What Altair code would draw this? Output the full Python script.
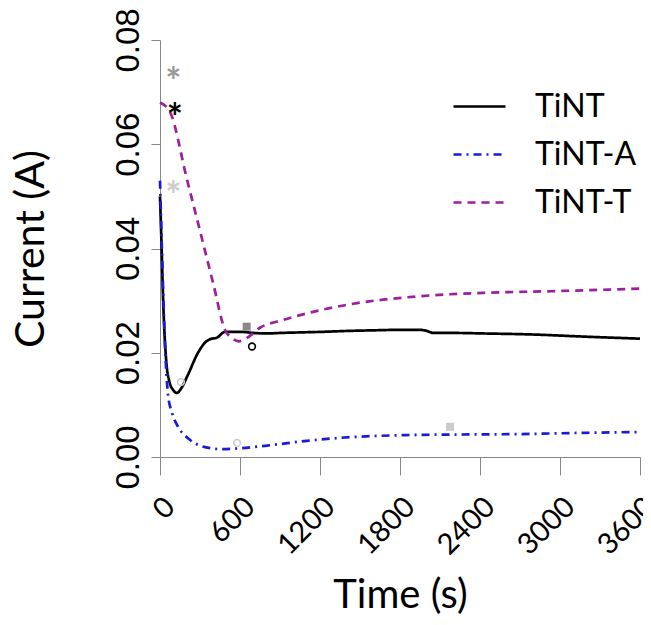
import altair as alt
import pandas as pd

# ---- data ----
series_names = ["TiNT", "TiNT-A", "TiNT-T"]

tint_t = [0, 10, 25, 45, 70, 100, 127, 160, 210, 285, 340, 375, 427, 487, 550, 615, 700, 800, 900,
          1050, 1200, 1425, 1600, 1800, 1950, 2000, 2050, 2200, 2425, 2800, 3175, 3600]
tint_v = [0.050, 0.042, 0.029, 0.019, 0.0145, 0.0128, 0.0123, 0.0132, 0.0158, 0.0200, 0.0220, 0.0226,
          0.0229, 0.0240, 0.0240, 0.0240, 0.0238, 0.0237, 0.0238, 0.0239, 0.0240, 0.0242, 0.0243,
          0.0244, 0.0244, 0.0242, 0.0238, 0.0238, 0.0237, 0.0235, 0.0231, 0.0227]

tinta_t = [0, 20, 40, 60, 90, 135, 210, 337, 465, 615, 840, 1100, 1425, 1837, 2175, 2700, 3100, 3600]
tinta_v = [0.053, 0.035, 0.020, 0.012, 0.0085, 0.0058, 0.0036, 0.0019, 0.0015, 0.0017, 0.0023, 0.0031,
           0.0038, 0.0042, 0.0043, 0.0044, 0.0046, 0.0048]

tintt_t = [0, 75, 200, 300, 400, 487, 540, 590, 650, 750, 925, 1425, 1925, 2425, 2925, 3600]
tintt_v = [0.068, 0.0662, 0.0535, 0.0434, 0.0332, 0.0244, 0.0228, 0.0222, 0.0228, 0.0248, 0.0263,
           0.0293, 0.0308, 0.0315, 0.0318, 0.0323]

# significance markers
star_t = [100, 112, 100]
star_v = [0.0738, 0.0670, 0.0519]
star_c = ["#999999", "#000000", "#cccccc"]

sq_t = [650, 2175]
sq_v = [0.0250, 0.0058]
sq_c = ["#888888", "#cccccc"]

circ_t = [690, 157, 578]
circ_v = [0.0212, 0.0144, 0.0027]
circ_c = ["#000000", "#cccccc", "#cccccc"]

x_ticks = [0, 600, 1200, 1800, 2400, 3000, 3600]
y_ticks = [0.00, 0.02, 0.04, 0.06, 0.08]

colors = ["#000000", "#1a1ad8", "#9c1f9c"]
dashes = [[1, 0], [8, 5, 2, 5], [8, 6]]

# ---- build tables ----
rows = []
for name, ts, vs in zip(series_names, [tint_t, tinta_t, tintt_t], [tint_v, tinta_v, tintt_v]):
    for t, v in zip(ts, vs):
        rows.append({"series": name, "t": t, "v": v})
lines_df = pd.DataFrame(rows)
stars_df = pd.DataFrame({"t": star_t, "v": star_v, "c": star_c})
sq_df = pd.DataFrame({"t": sq_t, "v": sq_v, "c": sq_c})
circ_df = pd.DataFrame({"t": circ_t, "v": circ_v, "c": circ_c})

xscale = alt.Scale(domain=[0, 3600], nice=False)
yscale = alt.Scale(domain=[0, 0.08], nice=False)

x_axis = alt.Axis(
    values=x_ticks, format="d", title="Time (s)", grid=False, labelOverlap=False, labelFlush=False,
    labelAngle=315, labelAlign="right", labelBaseline="top",
    labelFont="Lato", labelFontSize=29, labelPadding=17, tickSize=18,
    titleFont="Lato", titleFontSize=40, titleFontWeight="normal", titlePadding=15)
y_axis = alt.Axis(
    values=y_ticks, format=".2f", title="Current (A)", grid=False, labelOverlap=False, labelFlush=False,
    labelAngle=270, labelAlign="center",
    labelBaseline="bottom", labelFont="Liberation Sans", labelFontSize=33, labelPadding=6,
    tickSize=9, titleFont="Lato", titleFontSize=41, titleFontWeight="normal", titlePadding=60)

x_enc = alt.X("t:Q", scale=xscale, axis=x_axis)
y_enc = alt.Y("v:Q", scale=yscale, axis=y_axis)

lines = alt.Chart(lines_df).mark_line(strokeWidth=2.7, interpolate="monotone").encode(
    x=x_enc, y=y_enc,
    color=alt.Color("series:N", scale=alt.Scale(domain=series_names, range=colors),
                    legend=alt.Legend(title=None, orient="none", legendX=292, legendY=39,
                                      symbolType="stroke", symbolSize=2704, symbolStrokeWidth=2.4,
                                      labelFont="Lato", labelFontSize=32, labelOffset=28,
                                      labelLimit=0, rowPadding=4, padding=0)),
    strokeDash=alt.StrokeDash("series:N", scale=alt.Scale(domain=series_names, range=dashes),
                              legend=None),
    order=alt.Order("t:Q"),
)

stars = alt.Chart(stars_df).mark_text(text="*", font="Lato", fontSize=38, fontWeight="bold", dy=12).encode(
    x=x_enc, y=y_enc, color=alt.Color("c:N", scale=None))

squares = alt.Chart(sq_df).mark_point(shape="square", filled=True, size=64, opacity=1).encode(
    x=x_enc, y=y_enc, color=alt.Color("c:N", scale=None))

circles = alt.Chart(circ_df).mark_point(shape="circle", filled=False, size=45, strokeWidth=1.6, opacity=1).encode(
    x=x_enc, y=y_enc, color=alt.Color("c:N", scale=None))

chart = alt.layer(lines, squares, circles, stars).properties(
    width=480, height=417,
    autosize=alt.AutoSizeParams(type="none"),
    padding={"left": 152, "top": 32, "right": 3, "bottom": 160},
    view=alt.ViewBackground(strokeWidth=0, stroke="transparent"),
).configure_view(strokeWidth=0, stroke="transparent").configure_axis(
    grid=False, domainColor="black", domainWidth=4.5, tickColor="black", tickWidth=4,
    labelColor="black", titleColor="black",
).configure(background="white")

chart.save("out.html", embed_options={"renderer": "svg", "actions": False})
